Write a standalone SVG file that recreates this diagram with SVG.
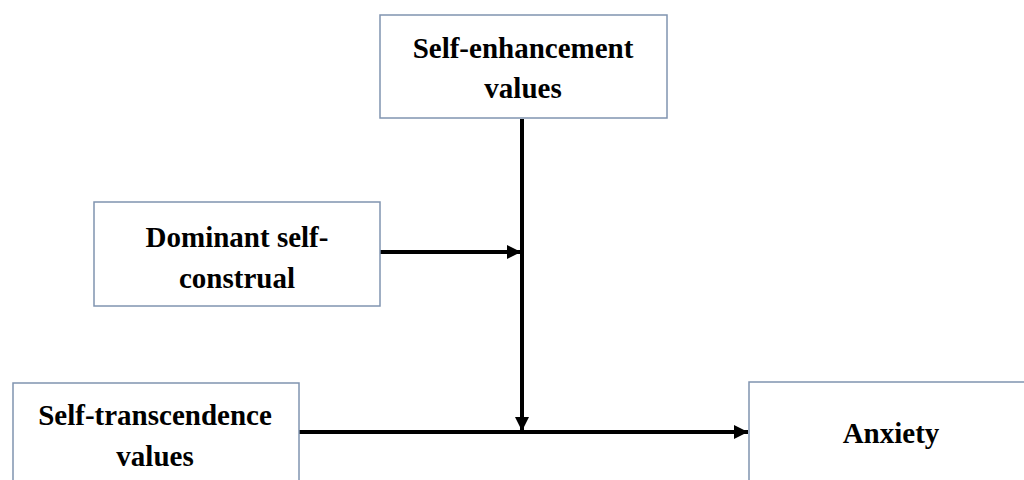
<svg xmlns="http://www.w3.org/2000/svg" width="1024" height="480" viewBox="0 0 1024 480">
<style>
.box{fill:#ffffff;stroke:#8094b0;stroke-width:1.5}
.lbl{font-family:"Liberation Serif","Times New Roman",serif;font-weight:bold;font-size:29px;fill:#000;text-anchor:middle}
.conn{stroke:#000;stroke-width:4;fill:none}
</style>
<defs>
<marker id="arr" viewBox="0 0 10 10" refX="10" refY="5" markerWidth="3.5" markerHeight="3.5" markerUnits="strokeWidth" orient="auto">
<path d="M0,0 L10,5 L0,10 z" fill="#000"/>
</marker>
</defs>
<rect width="1024" height="480" fill="#ffffff"/>
<g id="connectors">
<line class="conn" x1="522" y1="119" x2="522" y2="431" marker-end="url(#arr)"/>
<line class="conn" x1="380" y1="252" x2="521" y2="252" marker-end="url(#arr)"/>
<line class="conn" x1="299" y1="432" x2="748" y2="432" marker-end="url(#arr)"/>
</g>
<g id="self-enhancement">
<rect class="box" x="380" y="15" width="287" height="103"/>
<text class="lbl" x="523" y="58">Self-enhancement</text>
<text class="lbl" x="523" y="98">values</text>
</g>
<g id="dominant">
<rect class="box" x="94" y="202" width="286" height="104"/>
<text class="lbl" x="237" y="247">Dominant self-</text>
<text class="lbl" x="237" y="288">construal</text>
</g>
<g id="self-transcendence">
<rect class="box" x="13" y="383" width="286" height="110"/>
<text class="lbl" x="155" y="425">Self-transcendence</text>
<text class="lbl" x="155" y="466">values</text>
</g>
<g id="anxiety">
<rect class="box" x="749" y="382" width="290" height="110"/>
<text class="lbl" x="891" y="443">Anxiety</text>
</g>
</svg>
